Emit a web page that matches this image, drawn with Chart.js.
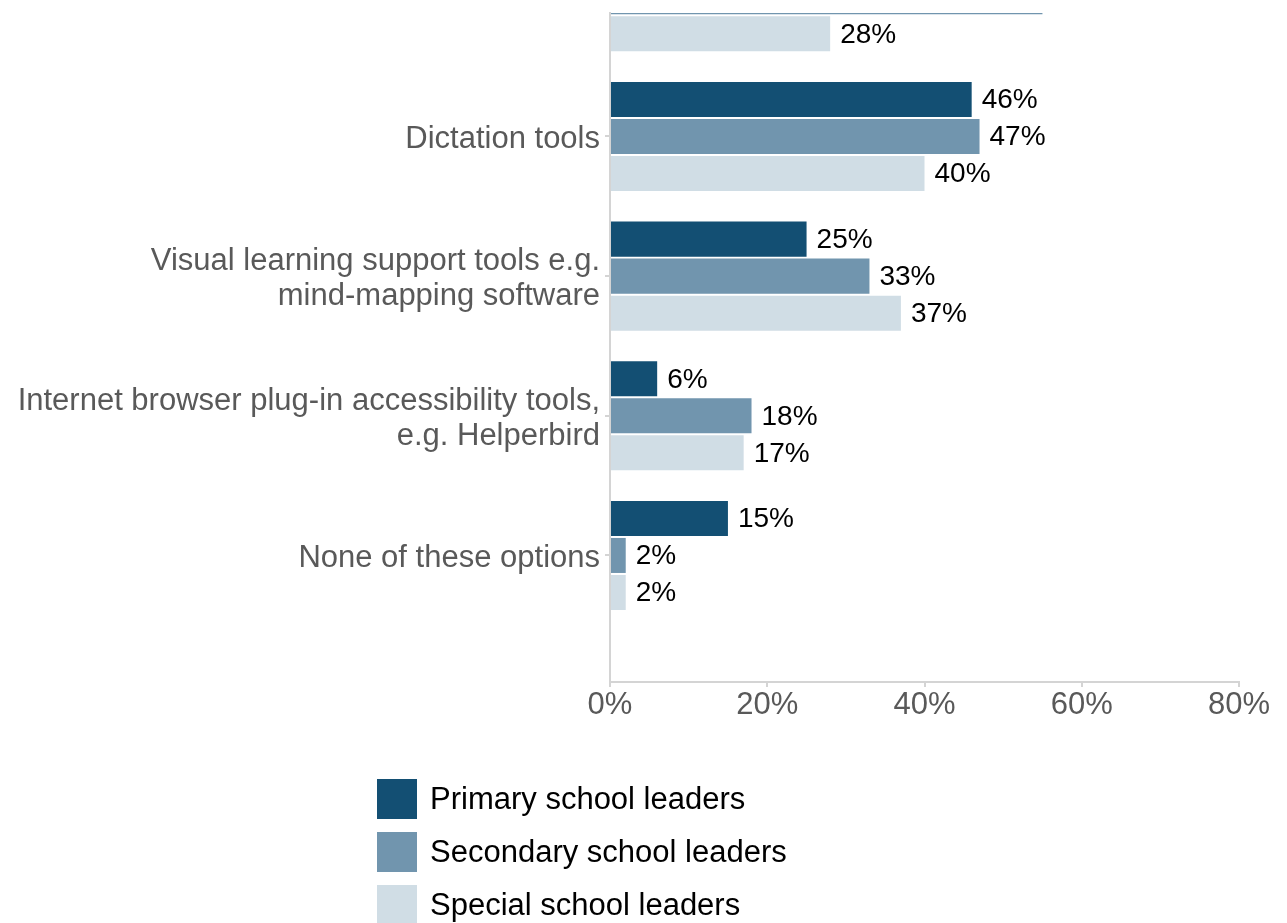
<!DOCTYPE html>
<html lang="en">
<head>
    <meta charset="UTF-8">
    <title>Assistive tools used by school leaders</title>
    <script src="https://cdn.jsdelivr.net/npm/chart.js"></script>
    <style>
        body {
            margin: 0;
            background: #fff;
        }

        #wrap {
            position: relative;
            width: 1287px;
            height: 923px;
            overflow: hidden;
        }

        #legend {
            position: absolute;
            left: 377px;
            top: 779px;
            font-family: "Liberation Sans", Arial, sans-serif;
            font-size: 31px;
            color: #000;
        }

        .legend-item {
            display: flex;
            align-items: center;
            height: 40px;
            margin-bottom: 13px;
        }

        .legend-box {
            width: 40px;
            height: 40px;
            margin-right: 13px;
        }
    </style>
</head>
<body>
    <div id="wrap">
        <canvas id="chart" width="1287" height="923"></canvas>
        <div id="legend"></div>
    </div>

    <script>
        // Data (the top category is cropped in the source picture; its label is not readable)
        const categories = [
            'Other tools',
            'Dictation tools',
            ['Visual learning support tools e.g.', 'mind-mapping software'],
            ['Internet browser plug-in accessibility tools,', 'e.g. Helperbird'],
            'None of these options'
        ];
        const primaryLeaders = [null, 46, 25, 6, 15];
        const secondaryLeaders = [55, 47, 33, 18, 2];
        const specialLeaders = [28, 40, 37, 17, 2];
        const seriesNames = ['Primary school leaders', 'Secondary school leaders', 'Special school leaders'];
        const seriesColors = ['#134f73', '#7195ae', '#d0dde5'];
        const xTicks = [0, 20, 40, 60, 80];

        // visible window of the category axis (picture is cropped at the top)
        const yMin = 0.116;
        const yMax = 4.906;

        const toPoints = arr => arr.map((v, i) => ({ x: v, y: i }));

        const datasets = [primaryLeaders, secondaryLeaders, specialLeaders].map((arr, i) => ({
            label: seriesNames[i],
            data: toPoints(arr),
            backgroundColor: seriesColors[i],
            borderWidth: 0,
            categoryPercentage: 0.795,
            barPercentage: 0.946,
            clip: 0
        }));

        // value labels to the right of each bar
        const valueLabels = {
            id: 'valueLabels',
            afterDatasetsDraw(chart) {
                const ctx = chart.ctx;
                const area = chart.chartArea;
                ctx.save();
                ctx.font = '28px "Liberation Sans", Arial, sans-serif';
                ctx.fillStyle = '#000';
                ctx.textAlign = 'left';
                ctx.textBaseline = 'middle';
                chart.data.datasets.forEach((ds, di) => {
                    chart.getDatasetMeta(di).data.forEach((bar, i) => {
                        const v = ds.data[i].x;
                        if (v === null || bar.y < area.top) return;
                        ctx.fillText(v + '%', bar.x + 10, bar.y + 1);
                    });
                });
                ctx.restore();
            }
        };

        const chart = new Chart(document.getElementById('chart'), {
            type: 'bar',
            data: { datasets },
            options: {
                responsive: false,
                animation: false,
                indexAxis: 'y',
                layout: { padding: { top: 13, right: 48, bottom: 181, left: 0 } },
                plugins: {
                    legend: { display: false },
                    tooltip: { enabled: false }
                },
                scales: {
                    x: {
                        min: xTicks[0],
                        max: xTicks[xTicks.length - 1],
                        afterBuildTicks: s => { s.ticks = xTicks.map(v => ({ value: v })); },
                        afterFit: s => { s.height = 60; },
                        border: { display: true, color: '#d4d4d4', width: 2 },
                        grid: { drawOnChartArea: false, drawTicks: true, tickLength: 5, color: '#d4d4d4', lineWidth: 2 },
                        ticks: {
                            padding: 0,
                            color: '#595959',
                            font: { family: '"Liberation Sans", Arial, sans-serif', size: 31 },
                            callback: v => v + '%'
                        }
                    },
                    y: {
                        type: 'linear',
                        reverse: true,
                        offset: false,
                        min: yMin,
                        max: yMax,
                        afterFit: s => {
                            s.width = 610;
                            s.paddingTop = 0;
                            s.paddingBottom = 0;
                        },
                        border: { display: true, color: '#d4d4d4', width: 2 },
                        grid: { offset: false, drawOnChartArea: false, drawTicks: true, tickLength: 5, color: '#d4d4d4', lineWidth: 2 },
                        ticks: {
                            stepSize: 1,
                            includeBounds: false,
                            autoSkip: false,
                            padding: 5,
                            labelOffset: 3,
                            color: '#595959',
                            font: { family: '"Liberation Sans", Arial, sans-serif', size: 31, lineHeight: 1.13 },
                            callback: v => Number.isInteger(v) ? categories[v] : ''
                        }
                    }
                }
            },
            plugins: [valueLabels]
        });

        // HTML legend from the datasets
        const legendEl = document.getElementById('legend');
        chart.data.datasets.forEach(ds => {
            const item = document.createElement('div');
            item.className = 'legend-item';
            item.innerHTML = `<span class="legend-box" style="background:${ds.backgroundColor}"></span><span>${ds.label}</span>`;
            legendEl.appendChild(item);
        });
    </script>
</body>
</html>
